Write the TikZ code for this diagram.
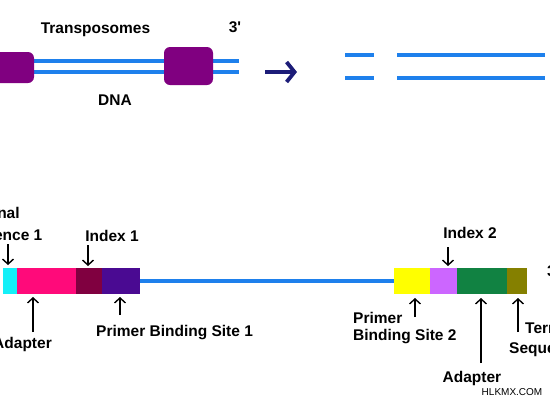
\documentclass[tikz,border=0pt]{standalone}
\usepackage{fontspec}
\setmainfont{Liberation Sans}
\usetikzlibrary{arrows.meta}
\definecolor{tpurple}{HTML}{800080}
\definecolor{dnablue}{HTML}{1E80EC}
\definecolor{navyarr}{HTML}{1C1C78}
\definecolor{segcyan}{HTML}{14F0F8}
\definecolor{segpink}{HTML}{FF0A7A}
\definecolor{segmaroon}{HTML}{800040}
\definecolor{segindigo}{HTML}{4A0A92}
\definecolor{segyellow}{HTML}{FFFF00}
\definecolor{segviolet}{HTML}{CC66FF}
\definecolor{seggreen}{HTML}{118242}
\definecolor{segolive}{HTML}{858000}
\begin{document}
\begin{tikzpicture}[x=1pt,y=-1pt,
  lbl/.style={font=\fontsize{15.5}{20}\selectfont\bfseries, inner sep=0pt},
  tbox/.style={fill=tpurple, rounded corners=6pt, minimum width=49pt, inner sep=0pt},
  dna/.style={dnablue, line width=3.8pt},
  seg/.style={inner sep=0pt, minimum height=25.5pt, anchor=west, outer sep=0pt},
  arr/.style={line width=1.4pt, -{Straight Barb[length=5pt,width=11pt]}},
  bigarr/.style={navyarr, line width=3.8pt, -{Straight Barb[length=8pt,width=20pt]}}]
\useasboundingbox (0,0) rectangle (550,400);

% ---- top: DNA with transposomes
\coordinate (d1s) at (34,61);
\coordinate (d1e) at (239,61);
\coordinate (d2s) at (34,72);
\coordinate (d2e) at (239,72);
\draw[dna] (d1s) -- (d1e);
\draw[dna] (d2s) -- (d2e);
\node[tbox, minimum height=31pt] (tl) at (9.5,67.5) {};
\node[tbox, minimum height=38pt] (tr) at (188.5,66) {};
\node[lbl, anchor=base] (ltr) at (95.5,33) {Transposomes};
\node[lbl, anchor=base] (l3a) at (235,32) {3\textquotesingle};
\node[lbl, anchor=base] (ldna) at (115,105) {DNA};

% arrow
\coordinate (ba) at (265,72);
\coordinate (bb) at (297,72);
\draw[bigarr] (ba) -- (bb);

% fragmented DNA
\coordinate (f1a) at (345,55); \coordinate (f1b) at (374,55);
\coordinate (f2a) at (345,78); \coordinate (f2b) at (374,78);
\coordinate (g1a) at (397,55); \coordinate (g1b) at (545,55);
\coordinate (g2a) at (397,78); \coordinate (g2b) at (545,78);
\draw[dna] (f1a) -- (f1b);
\draw[dna] (f2a) -- (f2b);
\draw[dna] (g1a) -- (g1b);
\draw[dna] (g2a) -- (g2b);

% ---- bottom: library fragment
\node[seg, fill=segcyan, minimum width=14pt] (ts1) at (3,281) {};
\node[seg, fill=segpink, minimum width=59pt] (a1) at (ts1.east) {};
\node[seg, fill=segmaroon, minimum width=26pt] (i1) at (a1.east) {};
\node[seg, fill=segindigo, minimum width=38pt] (pb1) at (i1.east) {};

\node[seg, fill=segyellow, minimum width=36pt] (pb2) at (394,281) {};
\node[seg, fill=segviolet, minimum width=27pt] (i2) at (pb2.east) {};
\node[seg, fill=seggreen, minimum width=50pt] (a2) at (i2.east) {};
\node[seg, fill=segolive, minimum width=20pt] (ts2) at (a2.east) {};

\draw[dnablue, line width=3.5pt] (pb1.east) -- (pb2.west);

% labels
\node[lbl, anchor=base west, align=left, font=\fontsize{15.5}{21.5}\selectfont\bfseries] (lts1) at (-44,240) {Terminal\\Sequence 1};
\node[lbl, anchor=base] (li1) at (112,241) {Index 1};
\node[lbl, anchor=base east] (la1) at (52,348) {Adapter};
\node[lbl, anchor=base west] (lpb1) at (96,336) {Primer Binding Site 1};
\node[lbl, anchor=base] (li2) at (470,238) {Index 2};
\node[lbl, anchor=base west, align=left, font=\fontsize{15.5}{17}\selectfont\bfseries] (lpb2) at (353,340) {Primer\\Binding Site 2};
\node[lbl, anchor=base] (la2) at (472,382) {Adapter};
\node[lbl, anchor=base west, align=left, font=\fontsize{15.5}{20}\selectfont\bfseries] (lts2) at (509,353) {\hspace*{16pt}Terminal\\Sequence 2};
\node[lbl, anchor=base west] (l3b) at (547,276) {3\textquotesingle};
\node[font=\fontsize{10}{12}\selectfont, anchor=base, inner sep=0pt] (wm) at (512,395) {HLKMX.COM};

% pointer arrows
\coordinate (p1t) at (8,244);   \coordinate (p1h) at (8,265);
\coordinate (p2t) at (88,245);  \coordinate (p2h) at (88,266);
\coordinate (p3t) at (33,332);  \coordinate (p3h) at (33,297);
\coordinate (p4t) at (120,315); \coordinate (p4h) at (120,297);
\coordinate (p5t) at (448,247); \coordinate (p5h) at (448,266);
\coordinate (p6t) at (415,317); \coordinate (p6h) at (415,298);
\coordinate (p7t) at (481,363); \coordinate (p7h) at (481,298);
\coordinate (p8t) at (518,332); \coordinate (p8h) at (518,298);
\draw[arr] (p1t) -- (p1h);
\draw[arr] (p2t) -- (p2h);
\draw[arr] (p3t) -- (p3h);
\draw[arr] (p4t) -- (p4h);
\draw[arr] (p5t) -- (p5h);
\draw[arr] (p6t) -- (p6h);
\draw[arr] (p7t) -- (p7h);
\draw[arr] (p8t) -- (p8h);
\end{tikzpicture}
\end{document}
